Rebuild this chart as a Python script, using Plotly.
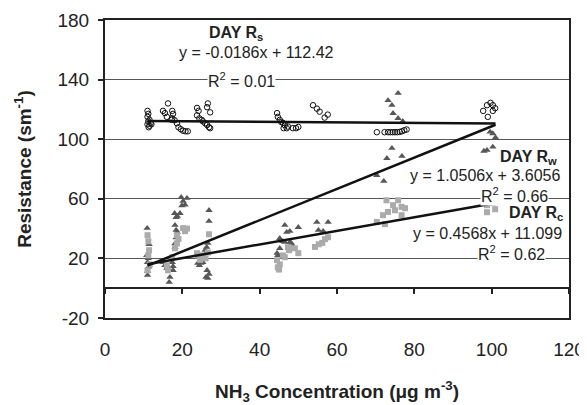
import plotly.graph_objects as go

# ---------------- data ----------------
RS_X = [11.0, 11.2, 11.0, 11.5, 11.2, 11.8, 11.0, 11.5, 12.0, 11.3,
        16.3, 15.0, 15.5, 16.0, 17.4, 17.6, 17.4, 17.2, 18.0, 18.6, 19.0, 19.6, 20.2, 20.8, 21.4,
        26.6, 26.4, 27.2, 23.8, 24.2, 23.8, 24.4, 25.0, 25.3, 25.9, 26.4, 26.9, 27.2,
        44.5, 44.7, 45.2, 45.6, 46.0, 46.5, 47.0, 46.2, 47.3, 48.6, 49.4, 50.0,
        53.8, 54.8, 55.5, 56.8, 57.6,
        70.3, 72.3, 73.2, 73.8, 74.4, 75.0, 75.6, 76.2, 76.8, 77.4, 78.0,
        97.8, 98.8, 99.7, 100.3, 100.9, 100.3, 99.0]
RS_Y = [119, 117, 115, 113, 112, 111, 110, 109, 110, 108,
        124, 119, 117.5, 115, 119, 117, 114, 113, 112.7, 110.7, 108, 106.7, 105.7, 105.3, 105.3,
        124, 121.5, 118, 121, 119, 116, 114, 113, 112, 110.7, 109.5, 108, 107.4,
        117.5, 115, 113, 111.5, 111, 109.4, 107.4, 107.4, 108.5, 107.4, 107.4, 108.2,
        122.8, 120.5, 118.5, 114.5, 116.5,
        104.7, 104.7, 104.7, 104.7, 104.7, 104.7, 104.7, 104.9, 105.3, 106, 106.5,
        119, 122.8, 124.4, 122.8, 120.8, 119, 115]

RW_X = [10.9, 11.4, 10.8, 11.2, 11.0, 11.3, 11.0, 11.0,
        19.7, 20.2, 20.7, 21.2, 19.9, 18.0, 18.7, 19.4, 18.4, 18.1, 18.4, 18.7, 18.4, 18.1, 18.1,
        15.0, 15.5, 16.0, 16.3, 17.4, 17.6, 17.6, 16.8, 16.6,
        26.9, 26.9, 26.3, 26.6, 25.9, 26.3, 24.0, 24.4, 24.8, 25.3, 26.4, 26.9, 26.1, 26.6,
        46.5, 50.0, 47.0, 47.8, 45.2, 46.0, 46.5, 47.8, 48.2, 44.5, 44.7, 45.2, 48.6,
        54.8, 57.7, 55.2, 56.4,
        75.8, 73.2, 74.2, 74.5, 75.8, 77.0, 74.2, 72.9, 76.8, 70.3, 72.1,
        99.6, 100.3, 101.0, 98.0, 98.8, 100.3]
RW_Y = [40.3, 29.5, 22, 20, 17.4, 14.3, 11.5, 8.7,
        61, 58.4, 56, 60.4, 55.5, 50.3, 48.3, 50.3, 47.6, 42.3, 39, 37.6, 34, 30, 27.5,
        17.4, 15.4, 13.4, 14.5, 17.4, 14.7, 12, 7.4, 4,
        52.3, 45, 27.5, 30.2, 25.5, 24, 16.8, 15.4, 16.8, 17.4, 12, 9.5, 7.4, 6.7,
        42.3, 40.9, 37.6, 38.3, 33.5, 31.5, 30.9, 30.9, 30.2, 23.5, 22, 26.8, 28,
        44.3, 44.3, 38.9, 38.3,
        130.9, 126, 122.8, 117.4, 114, 112, 94, 87.2, 88.6, 75.8, 71.8,
        104.9, 103.8, 101.1, 92, 92.6, 94.8]

RC_X = [11.0, 11.2, 11.4, 11.2, 11.6, 11.0,
        20.2, 20.7, 21.2, 18.6, 18.6, 18.1, 17.4, 16.0, 16.3, 19.0,
        26.9, 26.6, 25.3, 23.8, 24.0, 24.6, 26.0,
        47.3, 47.6, 47.8, 50.0, 44.5, 45.2, 44.7, 45.0, 46.0, 46.5, 49.1,
        54.3, 55.3, 56.2, 56.9, 57.7,
        72.8, 75.8, 74.5, 76.7, 77.6, 73.2, 75.0, 71.9, 76.7, 70.3, 72.4,
        98.8, 100.3, 100.9, 98.8]
RC_Y = [35.6, 31.5, 25.5, 22, 16, 12,
        40.3, 38.3, 40, 35.6, 30, 26.8, 20.8, 15.4, 12, 33,
        36.2, 24, 22, 23.5, 22, 19, 20,
        27.5, 25.5, 27, 23.5, 18.8, 16, 14, 12.5, 22, 20.8, 26.8,
        27.7, 29.5, 30.4, 32.9, 34.2,
        59, 59, 55.7, 54.6, 53.7, 51.2, 52.3, 49, 49, 44.5, 43,
        55.7, 57, 53, 51]

TREND_X = [11, 101]
RS_FIT = (-0.0186, 112.42)
RW_FIT = (1.0506, 3.6056)
RC_FIT = (0.4568, 11.099)

X_TICKS = [0, 20, 40, 60, 80, 100, 120]
Y_TICKS = [-20, 20, 60, 100, 140, 180]
Y_TICK_TEXT = ["-20", "20", "60", "100", "140", "180"]

FONT = "Liberation Sans, Arial, sans-serif"
DARK = "#222222"

fig = go.Figure()

fig.add_trace(go.Scatter(x=RW_X, y=RW_Y, mode="markers", name="DAY Rw",
                         marker=dict(symbol="triangle-up", size=6.5, color="#575757")))
fig.add_trace(go.Scatter(x=RC_X, y=RC_Y, mode="markers", name="DAY Rc",
                         marker=dict(symbol="square", size=6, color="#ababab")))
fig.add_trace(go.Scatter(x=RS_X, y=RS_Y, mode="markers", name="DAY Rs",
                         marker=dict(symbol="circle-open", size=5.5, color="#111111",
                                     line=dict(width=1))))

for m, b in (RS_FIT, RW_FIT, RC_FIT):
    fig.add_trace(go.Scatter(x=TREND_X, y=[m * x + b for x in TREND_X], mode="lines",
                             xaxis="x2", line=dict(color="#111111", width=2.5),
                             hoverinfo="skip"))

ann = [
    (33.9, 171, "<b>DAY R<sub>s</sub></b>", False),
    (39.3, 158.4, "y = -0.0186x + 112.42", False),
    (35.2, 140, "R<sup>2</sup> = 0.01", True),
    (109.6, 87.5, "<b>DAY R<sub>w</sub></b>", False),
    (98.3, 75.8, "y = 1.0506x + 3.6056", False),
    (105.8, 62.8, "R<sup>2</sup> = 0.66", True),
    (111.5, 50.0, "<b>DAY R<sub>c</sub></b>", False),
    (99.0, 36.9, "y = 0.4568x + 11.099", False),
    (105.2, 23.5, "R<sup>2</sup> = 0.62", True),
]
for x, y, t, bg in ann:
    fig.add_annotation(x=x, y=y, xref="x", yref="y", text=t, showarrow=False,
                       font=dict(family=FONT, size=16, color=DARK),
                       bgcolor="white" if bg else None, borderpad=0)

# the page body has an 8px default margin, so the figure is sized to fit the window
fig.update_layout(
    width=579, height=397,
    margin=dict(l=97, r=18, t=12, b=87),
    paper_bgcolor="white", plot_bgcolor="white",
    showlegend=False,
    font=dict(family=FONT, color=DARK),
    xaxis=dict(range=[0, 120], tickvals=X_TICKS, ticks="", showline=True, mirror=True,
               linecolor=DARK, linewidth=2, showgrid=False, zeroline=False,
               automargin=False,
               tickfont=dict(size=19, color=DARK), ticklabelstandoff=13,
               title=dict(text="<b>NH<sub>3</sub> Concentration (\u03bcg m<sup>-3</sup>)</b>",
                          font=dict(size=19, color=DARK), standoff=41)),
    xaxis2=dict(overlaying="x", anchor="free", position=0.1, range=[0, 120],
                tickvals=X_TICKS, ticks="outside", ticklen=5, tickwidth=1.5,
                tickcolor=DARK, showticklabels=False, showline=True, automargin=False,
                linecolor=DARK, linewidth=1.5, showgrid=False, zeroline=False),
    yaxis=dict(range=[-20, 180], tickvals=Y_TICKS, ticktext=Y_TICK_TEXT,
               ticks="outside", ticklen=5, automargin=False,
               tickwidth=1.5, tickcolor=DARK, showline=True, mirror=True,
               linecolor=DARK, linewidth=2, showgrid=True, gridcolor="#555555",
               gridwidth=1, zeroline=False, tickfont=dict(size=19, color=DARK),
               ticklabelstandoff=5,
               title=dict(text="<b>Resistance (sm<sup>-1</sup>)</b>",
                          font=dict(size=19, color=DARK), standoff=21)),
)

fig.write_html("out.html")
